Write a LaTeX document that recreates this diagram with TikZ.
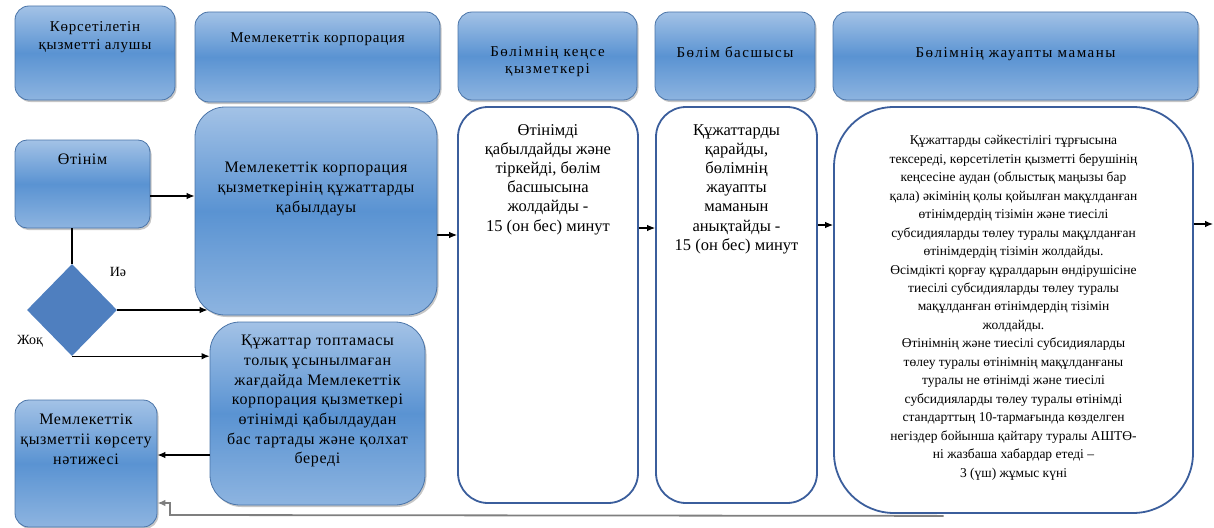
\documentclass[tikz,border=0pt]{standalone}
\usepackage{fontspec}
\setmainfont{Liberation Serif}
\newfontfamily\tms{Liberation Serif}
\newfontfamily\tmsa[LetterSpace=5]{Liberation Serif}
\newfontfamily\tmsb[LetterSpace=10]{Liberation Serif}
\newfontfamily\tmsc[LetterSpace=4]{Liberation Serif}
\usetikzlibrary{arrows.meta,shapes.geometric,shadows,calc}
\definecolor{btop}{HTML}{A3C2E6}
\definecolor{bmid}{HTML}{5A93D2}
\definecolor{bbot}{HTML}{8DB4E0}
\definecolor{bline}{HTML}{4A74A8}
\definecolor{sline}{HTML}{3B5E9C}
\definecolor{dfill}{HTML}{4F7FBF}
\definecolor{gline}{HTML}{7F7F7F}
\begin{document}
\begin{tikzpicture}[x=1pt,y=-1pt,
  bluebox/.style={draw=bline, line width=0.8pt, top color=btop, bottom color=bbot, middle color=bmid,
    drop shadow={shadow xshift=1.5pt, shadow yshift=-2pt, opacity=0.45}, inner sep=0pt},
  stepbox/.style={draw=sline, line width=1.8pt, fill=white, inner sep=0pt},
  htxta/.style={align=center, anchor=north, inner sep=0pt, font=\tmsa\fontsize{15}{18}\selectfont},
  htxtb/.style={align=center, anchor=north, inner sep=0pt, font=\tmsb\fontsize{15}{16.5}\selectfont},
  txt/.style={align=center, anchor=north, inner sep=0pt, font=\tmsc\fontsize{16}{19.7}\selectfont},
  stxt/.style={align=center, anchor=north, inner sep=0pt, font=\tms\fontsize{16.5}{19.2}\selectfont},
  btxt/.style={align=center, anchor=north, inner sep=0pt, font=\tms\fontsize{13.5}{18.45}\selectfont},
  arr/.style={-{Latex[length=8pt,width=6.5pt]}, line width=1.1pt},
  plain/.style={line width=1.1pt},
  ret/.style={-{Latex[length=8pt,width=6.5pt]}, line width=1.8pt, draw=gline},
]
\useasboundingbox (0,0) rectangle (1214,527);

% header row
\node[bluebox, rounded corners=14pt, minimum width=160pt, minimum height=94pt] (h1) at (95,53) {};
\node[bluebox, rounded corners=14pt, minimum width=245pt, minimum height=90pt] (h2) at (317.5,57) {};
\node[bluebox, rounded corners=14pt, minimum width=179pt, minimum height=88pt] (h3) at (547.5,56) {};
\node[bluebox, rounded corners=14pt, minimum width=160pt, minimum height=88pt] (h4) at (735,56) {};
\node[bluebox, rounded corners=14pt, minimum width=365pt, minimum height=88pt] (h5) at (1015.5,56) {};
\node[htxta] (th1) at (95,21.5) {Көрсетілетін\\қызметті алушы};
\node[htxta] (th2) at (317.5,32.5) {Мемлекеттік корпорация};
\node[htxtb] (th3) at (547.5,46.5) {Бөлімнің кеңсе\\қызметкері};
\node[htxtb] (th4) at (735,47) {Бөлім басшысы};
\node[htxtb] (th5) at (1015.5,47) {Бөлімнің жауапты маманы};

% left column
\node[bluebox, rounded corners=12pt, minimum width=135pt, minimum height=88pt] (otinim) at (82.5,184) {};
\node[txt] (totinim) at (82.5,154) {Өтінім};
\node[bluebox, rounded corners=30pt, minimum width=242pt, minimum height=208pt] (big) at (316,211) {};
\node[txt] (tbig) at (316,162) {Мемлекеттік корпорация\\қызметкерінің құжаттарды\\қабылдауы};
\node[diamond, fill=dfill, minimum width=90pt, minimum height=92pt, inner sep=0pt] (dia) at (72,310) {};
\node[font=\tms\fontsize{14}{15}\selectfont, inner sep=0pt] (ie) at (118,272) {Иә};
\node[font=\tms\fontsize{14}{15}\selectfont, inner sep=0pt] (zhok) at (30,341) {Жоқ};
\node[bluebox, rounded corners=30pt, minimum width=215pt, minimum height=183pt] (kuzh) at (317.5,413.5) {};
\node[txt] (tkuzh) at (317.5,335) {Құжаттар топтамасы\\толық ұсынылмаған\\жағдайда Мемлекеттік\\корпорация қызметкері\\өтінімді қабылдаудан\\бас тартады және қолхат\\береді};
\node[bluebox, rounded corners=14pt, minimum width=142pt, minimum height=127pt] (result) at (86,463.5) {};
\node[txt] (tresult) at (86,414) {Мемлекеттік\\қызметтіі көрсету\\нәтижесі};

% step columns
\node[stepbox, rounded corners=30pt, minimum width=180pt, minimum height=396pt] (s1) at (548,305) {};
\node[stxt] (ts1) at (548,124) {Өтінімді\\қабылдайды және\\тіркейді, бөлім\\басшысына\\жолдайды -\\15 (он бес) минут};
\node[stepbox, rounded corners=30pt, minimum width=161pt, minimum height=396pt] (s2) at (736.5,305) {};
\node[stxt] (ts2) at (736.5,124) {Құжаттарды\\қарайды,\\бөлімнің\\жауапты\\маманын\\анықтайды -\\15 (он бес) минут};
\node[stepbox, rounded corners=60pt, minimum width=359pt, minimum height=406pt] (s3) at (1013.5,310) {};
\node[btxt] (ts3) at (1013.5,135.5) {Құжаттарды сәйкестілігі тұрғысына\\тексереді, көрсетілетін қызметті берушінің\\кеңсесіне аудан (облыстық маңызы бар\\қала) әкімінің қолы қойылған мақұлданған\\өтінімдердің тізімін және тиесілі\\субсидияларды төлеу туралы мақұлданған\\өтінімдердің тізімін жолдайды.\\Өсімдікті қорғау құралдарын өндірушісіне\\тиесілі субсидияларды төлеу туралы\\мақұлданған өтінімдердің тізімін\\жолдайды.\\Өтінімнің және тиесілі субсидияларды\\төлеу туралы өтінімнің мақұлданғаны\\туралы не өтінімді және тиесілі\\субсидияларды төлеу туралы өтінімді\\стандарттың 10-тармағында көзделген\\негіздер бойынша қайтару туралы АШТӨ-\\ні жазбаша хабардар етеді –\\3 (үш) жұмыс күні};

% connectors
\coordinate (a1) at ($(otinim.east)+(0,12)$);
\draw[arr] (a1) -- (a1 -| big.west);
\draw[plain] (dia.north |- otinim.south) -- (dia.north);
\draw[arr] (dia.east) -- ($(dia.east -| big.west)+(13,0)$);
\draw[arr] (dia.south) -- (dia.south -| kuzh.west);
\coordinate (a2) at ($(kuzh.west)+(0,41.5)$);
\draw[arr] (a2) -- (a2 -| result.east);
\coordinate (a3) at ($(big.east)+(0,24)$);
\draw[arr] (a3) -- (a3 -| s1.west);
\coordinate (a4) at ($(s1.east)+(0,-77)$);
\draw[arr] (a4) -- (a4 -| s2.west);
\coordinate (a5) at ($(s2.east)+(0,-80)$);
\draw[arr] (a5) -- (a5 -| s3.west);
\coordinate (a6) at ($(s3.east)+(0,-86)$);
\coordinate (outend) at (1213,224);
\draw[arr] (a6) -- (outend);
\coordinate (r0) at ($(s3.south)+(-70,2)$);
\coordinate (r1) at (170,515);
\coordinate (r2) at (170,503);
\draw[ret] (r0) -- (r1) -- (r2) -- (r2 -| result.east);
\end{tikzpicture}
\end{document}
